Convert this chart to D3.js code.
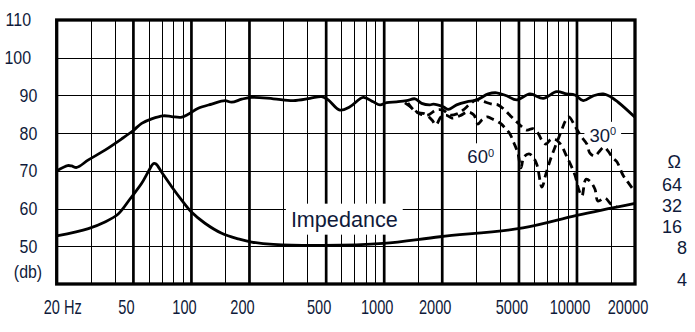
<!DOCTYPE html>
<html>
<head>
<meta charset="utf-8">
<script src="https://cdn.jsdelivr.net/npm/d3@7"></script>
<style>
  html, body { margin: 0; padding: 0; background: #fff; }
  svg { display: block; font-family: 'Liberation Sans', Arial, sans-serif; }
</style>
</head>
<body>
<div id="chart"></div>
<script>
// on-axis SPL
const responseFreq = [20, 22.8, 23.9, 25.4, 29.2, 35.6, 43.5, 49.9, 55.2, 62.2,
  71.4, 79, 88.2, 96.3, 108.5, 127.4, 149.3, 161.7, 182.3, 205,
  266, 337.5, 412, 474, 512.6, 589.6, 664, 778, 877, 950.6,
  1030, 1160, 1307, 1444, 1564, 1727, 1797, 2024, 2148, 2375,
  2677, 3016, 3465, 3830, 4315, 4862, 5700, 6684, 7843, 8835,
  9757, 10775, 12141, 13682, 15413, 20000]
const responseDb = [70.0, 71.4, 71.3, 70.9, 72.9, 75.5, 78.5, 80.7, 82.6, 83.8,
  84.6, 84.4, 84.2, 85.0, 86.6, 87.7, 88.6, 88.2, 89.0, 89.5,
  89.1, 88.6, 89.2, 89.7, 88.8, 86.1, 87.0, 89.5, 88.3, 87.5,
  88.1, 88.3, 88.6, 89.1, 87.9, 87.5, 87.7, 87.0, 86.3, 87.5,
  88.3, 88.8, 90.4, 90.7, 89.9, 88.8, 90.4, 89.2, 91.0, 90.4,
  90.1, 88.6, 89.9, 90.4, 89.2, 84.2]

// off-axis curves
const offAxis30Freq = [1328, 1461, 1627, 1769, 1855, 1969, 2090, 2246, 2471, 2718,
  2920, 3064, 3212, 3412, 3620, 3985, 4280, 4490, 4710, 4938,
  5120, 5308, 5634, 5908, 6198, 6580, 6902, 7326, 7778, 8254,
  8766, 9086, 9758, 10482, 11260, 11670, 12388, 12994, 13798, 14470,
  15362, 16112, 17310, 18378, 20000]
const offAxis30Db = [88.0, 85.6, 85.1, 83.5, 82.2, 84.3, 84.8, 84.0, 84.6, 85.6,
  84.8, 82.4, 83.5, 84.3, 83.8, 82.7, 81.1, 79.8, 77.4, 74.7,
  70.8, 73.7, 74.5, 73.7, 71.6, 65.7, 69.2, 73.4, 76.9, 80.3,
  83.5, 84.3, 81.9, 79.2, 77.1, 74.7, 73.9, 75.0, 76.3, 75.3,
  73.4, 72.4, 68.9, 67.0, 64.4]

const offAxis60Freq = [1281, 1392, 1533, 1686, 1855, 2017, 2192, 2384, 2562, 2785,
  2992, 3212, 3620, 3890, 4228, 4598, 4938, 5500, 5908, 6272,
  6580, 6902, 7326, 7684, 8156, 8872, 9758, 10234, 10608, 11126,
  11670, 12388, 12840, 13962, 14998, 16112]
const offAxis60Db = [88.0, 86.7, 85.1, 84.8, 86.1, 86.1, 84.8, 85.1, 86.1, 87.7,
  88.8, 88.5, 87.7, 87.5, 86.1, 84.2, 82.7, 80.8, 81.2, 80.0,
  78.1, 77.1, 78.4, 78.4, 77.3, 73.7, 68.9, 64.9, 63.3, 67.8,
  67.3, 65.2, 62.0, 62.8, 61.2, 60.4]

// impedance magnitude
const impedanceFreq = [20, 29.2, 35.6, 41.7, 48, 55.2, 59.7, 63.6, 65.5, 70.1,
  79, 89, 100, 117.5, 143.5, 175, 205, 266, 483, 988,
  1946, 5243, 9954, 20000]
const impedanceOhm = [11.9, 15.2, 18.9, 24.6, 40.3, 67.7, 99.2, 130, 128, 97.4,
  60.5, 38.9, 26.2, 18.1, 13.0, 10.8, 9.75, 9.0, 8.7, 9.3,
  11.6, 15.5, 23.4, 34.8]

const freqMajor = [50, 100, 200, 500, 1000, 2000, 5000, 10000]
const freqMinor = [30, 40, 60, 70, 80, 90, 150, 300, 400, 600, 700, 800, 900,
  1500, 3000, 4000, 6000, 7000, 8000, 9000, 15000]
const freqLabels = [20, 50, 100, 200, 500, 1000, 2000, 5000, 10000, 20000]
const dbGrid = [50, 60, 70, 80, 90, 100]
const dbLabels = [110, 100, 90, 80, 70, 60, 50]
const ohmLabels = [64, 32, 16, 8, 4]

const width = 695, height = 332
const ink = '#0f1a3a'

const x = d3.scaleLog().domain([20, 20000]).range([56.7, 635])
const y = d3.scaleLinear().domain([40, 110]).range([284, 20])
const ohm = d3.scaleLog().base(2).domain([4, 8, 64]).range([280, 248, 185])

const svg = d3.select('#chart').append('svg')
  .attr('width', width)
  .attr('height', height)

svg.append('rect').attr('width', width).attr('height', height).attr('fill', '#fff')

const grid = svg.append('g').attr('stroke', '#000').attr('fill', 'none')

grid.selectAll('.minor')
  .data(freqMinor)
  .join('line')
  .attr('class', 'minor')
  .attr('x1', d => Math.round(x(d)) + 0.5).attr('x2', d => Math.round(x(d)) + 0.5)
  .attr('y1', y(40)).attr('y2', y(110))
  .attr('stroke-width', 1)

grid.selectAll('.hline')
  .data(dbGrid)
  .join('line')
  .attr('class', 'hline')
  .attr('x1', x(20)).attr('x2', x(20000))
  .attr('y1', d => Math.round(y(d)) + 0.5).attr('y2', d => Math.round(y(d)) + 0.5)
  .attr('stroke-width', 1)

grid.selectAll('.major')
  .data(freqMajor)
  .join('line')
  .attr('class', 'major')
  .attr('x1', d => x(d)).attr('x2', d => x(d))
  .attr('y1', y(40)).attr('y2', y(110))
  .attr('stroke-width', 2.7)

grid.append('rect')
  .attr('x', x(20)).attr('y', y(110))
  .attr('width', x(20000) - x(20))
  .attr('height', y(40) - y(110))
  .attr('stroke-width', 3.3)

// labels sit on white patches that cut the grid
const notes = svg.append('g')

function note(text, f, db, size, sup) {
  const t = notes.append('text')
    .attr('x', x(f)).attr('y', y(db))
    .attr('fill', ink)
    .attr('font-size', size)
    .text(text)
  if (sup) {
    t.append('tspan').attr('font-size', 11).attr('dy', -6.5).text(sup)
  }
  const b = t.node().getBBox()
  notes.insert('rect', 'text')
    .attr('x', b.x - 5).attr('y', b.y - 3)
    .attr('width', b.width + 10).attr('height', b.height + 6)
    .attr('fill', '#fff')
  return t
}

note('Impedance', 328, 55.2, 21.6)
note('60', 2700, 72.0, 18.5, '0')
note('30', 11600, 77.7, 18.5, '0')

const plot = svg.append('g').attr('fill', 'none').attr('stroke', '#000')

const dbLine = d3.line()
  .x(d => x(d[0]))
  .y(d => y(d[1]))
  .curve(d3.curveCatmullRom.alpha(0.5))

const ohmLine = d3.line()
  .x(d => x(d[0]))
  .y(d => ohm(d[1]))
  .curve(d3.curveCatmullRom.alpha(0.5))

plot.append('path')
  .attr('d', ohmLine(d3.zip(impedanceFreq, impedanceOhm)))
  .attr('stroke-width', 2.8)

plot.append('path')
  .attr('d', dbLine(d3.zip(offAxis60Freq, offAxis60Db)))
  .attr('stroke-width', 2.8)
  .attr('stroke-dasharray', '8,5')

plot.append('path')
  .attr('d', dbLine(d3.zip(offAxis30Freq, offAxis30Db)))
  .attr('stroke-width', 2.8)
  .attr('stroke-dasharray', '8,5')

plot.append('path')
  .attr('d', dbLine(d3.zip(responseFreq, responseDb)))
  .attr('stroke-width', 2.8)
  .attr('stroke-linejoin', 'round')

// axis text, slightly narrowed like the printed sheet
const axisText = svg.append('g').attr('fill', ink)

axisText.selectAll('.flabel')
  .data(freqLabels)
  .join('text')
  .attr('class', 'flabel')
  .attr('font-size', 20)
  .attr('text-anchor', d => d === 20 ? 'start' : 'middle')
  .attr('transform', d => `translate(${d === 20 ? x(d) - 13 : x(d) - 7},314) scale(0.73,1)`)
  .text(d => d === 20 ? '20 Hz' : d)

axisText.selectAll('.dblabel')
  .data(dbLabels)
  .join('text')
  .attr('class', 'dblabel')
  .attr('font-size', 17.7)
  .attr('text-anchor', 'end')
  .attr('transform', d => `translate(${d >= 100 ? 31 : 37.3},${y(d)}) scale(0.9,1)`)
  .attr('dy', '0.36em')
  .text(d => d)

axisText.append('text')
  .attr('font-size', 17.7)
  .attr('text-anchor', 'middle')
  .attr('transform', `translate(28,${y(40) - 12}) scale(0.9,1)`)
  .attr('dy', '0.36em')
  .text('(db)')

axisText.selectAll('.ohmlabel')
  .data(ohmLabels)
  .join('text')
  .attr('class', 'ohmlabel')
  .attr('font-size', 18)
  .attr('text-anchor', 'end')
  .attr('x', d => d < 10 ? 687 : 682)
  .attr('y', d => ohm(d))
  .attr('dy', '0.36em')
  .text(d => d)

axisText.append('text')
  .attr('font-size', 18)
  .attr('text-anchor', 'end')
  .attr('x', 681)
  .attr('y', ohm(128) - 2)
  .attr('dy', '0.36em')
  .text('Ω')
</script>
</body>
</html>
